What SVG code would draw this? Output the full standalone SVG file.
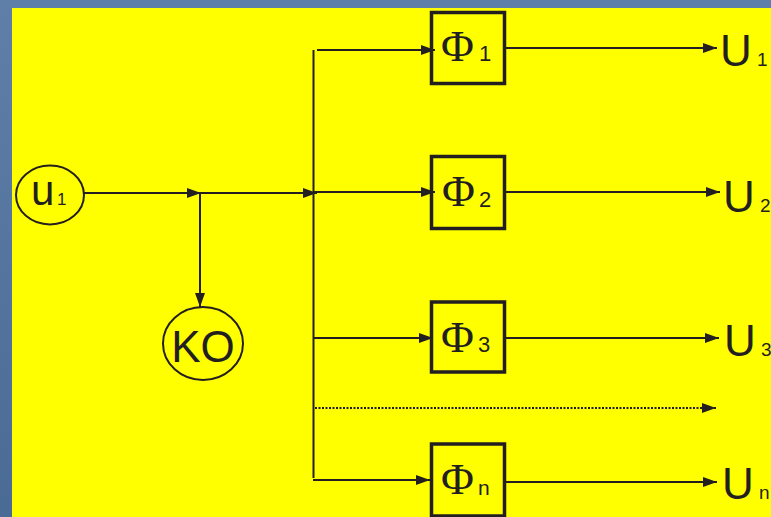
<svg xmlns="http://www.w3.org/2000/svg" width="771" height="517" viewBox="0 0 771 517">
<defs>
<linearGradient id="bg" x1="0" y1="0" x2="0" y2="1">
<stop offset="0" stop-color="#5f7fa8"/>
<stop offset="1" stop-color="#4a6b96"/>
</linearGradient>
<marker id="ah" viewBox="0 0 14 10" refX="14" refY="5" markerWidth="14" markerHeight="10" markerUnits="userSpaceOnUse" orient="auto">
<path d="M0,0 L14,5 L0,10 Z" fill="#231f20"/>
</marker>
<style>
.ln{stroke:#231f20;stroke-width:2;fill:none}
.arr{stroke:#231f20;stroke-width:2;fill:none;marker-end:url(#ah)}
.dot{stroke:#231f20;stroke-width:2;fill:none;stroke-dasharray:2 1.5;marker-end:url(#ah)}
.box{fill:none;stroke:#231f20;stroke-width:3.5}
.ell{fill:none;stroke:#231f20;stroke-width:2}
.sans{font-family:"Liberation Sans",Arial,sans-serif;fill:#231f20}
.ser{font-family:"Liberation Serif","Times New Roman",serif;fill:#231f20}
</style>
</defs>
<rect x="0" y="0" width="771" height="517" fill="url(#bg)"/>
<rect x="12" y="8" width="759" height="509" fill="#ffff00"/>

<g id="connectors">
<line class="arr" x1="84" y1="193" x2="201" y2="193"/>
<line class="arr" x1="199" y1="193" x2="317" y2="193"/>
<line class="arr" x1="200" y1="193" x2="200" y2="307"/>
<line class="ln" x1="313.5" y1="50" x2="313.5" y2="478"/>
<line class="arr" x1="317" y1="50" x2="435" y2="50"/>
<line class="arr" x1="313" y1="192" x2="435" y2="192"/>
<line class="arr" x1="313" y1="338" x2="433" y2="338"/>
<line class="arr" x1="313" y1="480" x2="430" y2="480"/>
<line class="dot" x1="315" y1="408" x2="716" y2="408"/>
<line class="arr" x1="506" y1="48" x2="717" y2="48"/>
<line class="arr" x1="506" y1="192" x2="720" y2="192"/>
<line class="arr" x1="506" y1="338" x2="719" y2="338"/>
<line class="arr" x1="506" y1="482" x2="717" y2="482"/>
</g>

<g id="u1">
<ellipse class="ell" cx="50" cy="195" rx="34" ry="29.5"/>
<text class="sans" x="31" y="205" font-size="42">u</text>
<text class="sans" x="57" y="205" font-size="17">1</text>
</g>

<g id="KO">
<ellipse class="ell" cx="203" cy="343.5" rx="40" ry="36.5"/>
<text class="sans" x="203" y="362" font-size="44" text-anchor="middle">KO</text>
</g>

<g id="F1">
<rect class="box" x="431.5" y="12.5" width="73" height="71"/>
<text class="ser" x="441" y="61" font-size="45">Φ</text>
<text class="sans" x="479" y="61" font-size="22">1</text>
</g>
<g id="F2">
<rect class="box" x="431.5" y="156.5" width="73" height="72"/>
<text class="ser" x="442" y="206" font-size="45">Φ</text>
<text class="sans" x="479" y="207" font-size="22">2</text>
</g>
<g id="F3">
<rect class="box" x="431.5" y="302" width="73" height="70"/>
<text class="ser" x="441" y="352" font-size="45">Φ</text>
<text class="sans" x="478" y="352" font-size="22">3</text>
</g>
<g id="Fn">
<rect class="box" x="431.5" y="444" width="73" height="72"/>
<text class="ser" x="441" y="494" font-size="45">Φ</text>
<text class="sans" x="478" y="495" font-size="21">n</text>
</g>

<g id="U1">
<text class="sans" x="720" y="66" font-size="44">U</text>
<text class="sans" x="757" y="66" font-size="19">1</text>
</g>
<g id="U2">
<text class="sans" x="723" y="212" font-size="44">U</text>
<text class="sans" x="760" y="212" font-size="19">2</text>
</g>
<g id="U3">
<text class="sans" x="724" y="356" font-size="44">U</text>
<text class="sans" x="761" y="356" font-size="19">3</text>
</g>
<g id="Un">
<text class="sans" x="722" y="499" font-size="44">U</text>
<text class="sans" x="759" y="499" font-size="19">n</text>
</g>
</svg>
